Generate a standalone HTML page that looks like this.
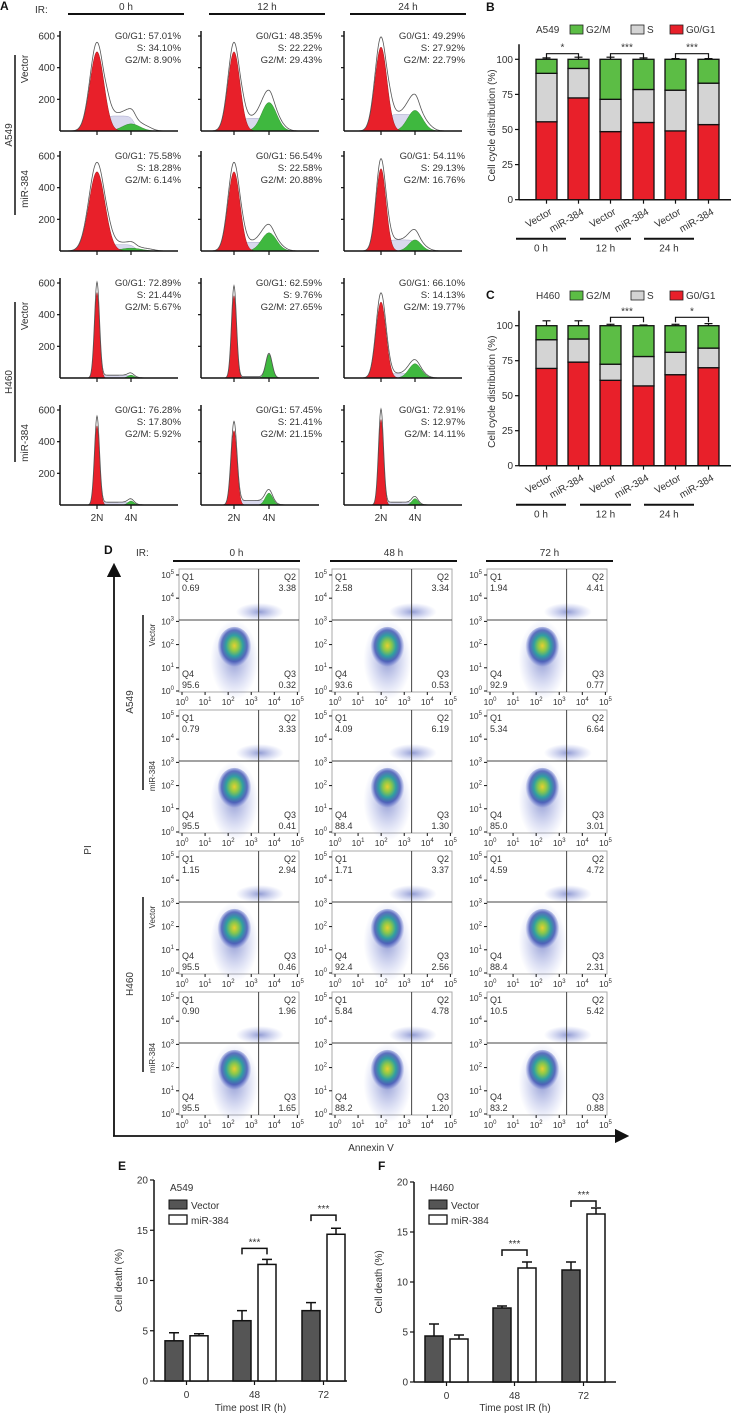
<!DOCTYPE html>
<html><head><meta charset="utf-8"><style>
html,body{margin:0;padding:0;background:#fff}
svg{display:block}
text{font-family:"Liberation Sans",sans-serif;fill:#333}
</style></head><body>
<svg id="fig" width="731" height="1416" viewBox="0 0 731 1416" xmlns="http://www.w3.org/2000/svg">
<defs>
<radialGradient id="dens" cx="50%" cy="45%" r="50%">
<stop offset="0" stop-color="#e8d030"/><stop offset="0.25" stop-color="#8cc84a"/><stop offset="0.5" stop-color="#30a0a0"/><stop offset="0.75" stop-color="#3a50b0" stop-opacity="0.8"/><stop offset="1" stop-color="#4a5cc8" stop-opacity="0"/>
</radialGradient>
<radialGradient id="dens2" cx="50%" cy="50%" r="50%">
<stop offset="0" stop-color="#3a4cb0" stop-opacity="0.55"/><stop offset="1" stop-color="#6a7ad8" stop-opacity="0"/>
</radialGradient>
<marker id="arr" markerWidth="8" markerHeight="8" refX="4" refY="4" orient="auto"><path d="M0,0 L8,4 L0,8 z" fill="#111"/></marker>
</defs>
<g id="root"></g>
</svg>
<script>
// ---------- Panel A data ----------
const histTimes = ['0 h','12 h','24 h'];
const histG1 = [57.01,48.35,49.29, 75.58,56.54,54.11, 72.89,62.59,66.10, 76.28,57.45,72.91];
const histS  = [34.10,22.22,27.92, 18.28,22.58,29.13, 21.44,9.76,14.13, 17.80,21.41,12.97];
const histG2 = [8.90,29.43,22.79, 6.14,20.88,16.76, 5.67,27.65,19.77, 5.92,21.15,14.11];
const histPeakG1 = [500,500,530, 500,500,520, 540,520,480, 500,470,540];
const histPeakS  = [95,80,105, 40,55,70, 18,8,28, 18,28,18];
const histPeakG2 = [45,180,130, 18,115,70, 18,150,90, 25,75,40];
const histSigma  = [7,6,6, 8,6,5, 2.5,2.5,5, 2.5,3,2.5];
const histYTicks = [200,400,600];
// ---------- Panel B/C data ----------
const barGroups = ['Vector','miR-384','Vector','miR-384','Vector','miR-384'];
const bG1 = [55.5,72.5,48.5,55,49,53.5];
const bS  = [34.5,21,23,23.5,29,29.5];
const bG2 = [10,6.5,28.5,21.5,22,17];
const bErr= [[1.5,2.5,1],[2.5,3,1.5],[1,1,1.5],[2,1,1],[1,1,0.5],[1,1,0.5]];
const cG1 = [69.5,74,61,57,65,70];
const cS  = [20.5,16.5,11.5,21,16,14];
const cG2 = [10,9.5,27.5,22,19,16];
const cErr= [[2.5,1.5,3.5],[2.5,2,3.5],[1.5,2,1],[2,2,0.5],[2,2.5,1],[3.5,3,1.5]];
const pctTicks = [0,25,50,75,100];
// ---------- Panel D data ----------
const dTimes = ['0 h','48 h','72 h'];
const q1 = ['0.69','2.58','1.94','0.79','4.09','5.34','1.15','1.71','4.59','0.90','5.84','10.5'];
const q2 = ['3.38','3.34','4.41','3.33','6.19','6.64','2.94','3.37','4.72','1.96','4.78','5.42'];
const q3 = ['0.32','0.53','0.77','0.41','1.30','3.01','0.46','2.56','2.31','1.65','1.20','0.88'];
const q4 = ['95.6','93.6','92.9','95.5','88.4','85.0','95.5','92.4','88.4','95.5','88.2','83.2'];
// ---------- Panel E/F data ----------
const timeCats = ['0','48','72'];
const eVec = [4.0,6.0,7.0], eVecErr=[0.8,1.0,0.8];
const eMir = [4.5,11.6,14.6], eMirErr=[0.2,0.5,0.6];
const fVec = [4.6,7.4,11.2], fVecErr=[1.2,0.2,0.8];
const fMir = [4.3,11.4,16.8], fMirErr=[0.4,0.6,0.6];
const deathTicks = [0,5,10,15,20];

const NS='http://www.w3.org/2000/svg';
const root=document.getElementById('root');
function el(tag,attrs,parent,txt){const e=document.createElementNS(NS,tag);for(const k in attrs)e.setAttribute(k,attrs[k]);if(txt!==undefined)e.textContent=txt;(parent||root).appendChild(e);return e;}
function grp(name){const g=el('g',{});return g;}
function T(g,x,y,s,size,anchor,extra){const t=el('text',Object.assign({x:x,y:y,'font-size':size||10,'text-anchor':anchor||'start'},extra||{}),g,s);return t;}
function L(g,x1,y1,x2,y2,w,c){return el('line',{x1:x1,y1:y1,x2:x2,y2:y2,stroke:c||'#111','stroke-width':w||1},g);}

// ===== Panel A =====
(function(){
  const g=grp('panel-a');
  T(g,0,10,'A',12,'start',{'font-weight':'bold',style:'fill:#111'});
  T(g,35,13,'IR:',10);
  const colX=[60,201,344], n2=[97,234,381], n4=[131,269,415], rowB=[131,251,378,505];
  const hdr=[[68,184],[209,325],[350,466]];
  histTimes.forEach((t,i)=>{L(g,hdr[i][0],14,hdr[i][1],14,2);T(g,(hdr[i][0]+hdr[i][1])/2,10,t,10,'middle');});
  L(g,15,55,15,215,1.5);T(g,0,0,'A549',10,'middle',{transform:'translate(12,135) rotate(-90)'});
  L(g,15,302,15,462,1.5);T(g,0,0,'H460',10,'middle',{transform:'translate(12,382) rotate(-90)'});
  ['Vector','miR-384','Vector','miR-384'].forEach((s,r)=>T(g,0,0,s,10,'middle',{transform:`translate(28,${rowB[r]-62}) rotate(-90)`}));
  const sc=95/600;
  for(let r=0;r<4;r++)for(let c=0;c<3;c++){
    const k=r*3+c, x0=colX[c], yb=rowB[r], w=118, c1=n2[c], c2=n4[c], s=histSigma[k];
    const hg=grp('histogram-r'+r+'-c'+c);
    const y=v=>yb-v*sc;
    let pr=[],ps=[],pg=[],po=[];
    for(let x=x0+2;x<=x0+w-2;x+=0.5){
      const a=histPeakG1[k]*Math.exp(-((x-c1)**2)/(2*s*s));
      const gs=histPeakG2[k]*Math.exp(-((x-c2)**2)/(2*(s*1.25)**2));
      const sv=histPeakS[k]/(1+Math.exp(-(x-c1-s*1.2)/1.5))/(1+Math.exp((x-c2-s*0.5)/2));
      pr.push([x,a]);ps.push([x,sv]);pg.push([x,gs]);
      const tail=histPeakS[k]*0.3/(1+Math.exp((x-c2-s*3)/3))/(1+Math.exp(-(x-c2)/2));
      po.push([x,a*1.12+sv+gs+tail]);
    }
    const path=(pts)=>'M'+pts[0][0]+','+yb+' '+pts.map(p=>'L'+p[0].toFixed(1)+','+y(p[1]).toFixed(1)).join(' ')+' L'+pts[pts.length-1][0]+','+yb+'Z';
    el('path',{d:path(ps),fill:'#d9d9ee',stroke:'#9a9ac0','stroke-width':0.4},hg);
    el('path',{d:path(pg),fill:'#3fb83f',stroke:'#2a7a2a','stroke-width':0.4},hg);
    el('path',{d:path(pr),fill:'#e8202a',stroke:'#8a1010','stroke-width':0.4},hg);
    el('path',{d:'M'+po.map(p=>p[0].toFixed(1)+','+y(p[1]).toFixed(1)).join(' L'),fill:'none',stroke:'#555','stroke-width':0.8},hg);
    L(hg,x0,yb-100,x0,yb,1.5);L(hg,x0,yb,x0+w,yb,1.5);
    L(hg,c1,yb,c1,yb+4,1.2);L(hg,c2,yb,c2,yb+4,1.2);
    histYTicks.forEach(v=>{L(hg,x0-3,y(v),x0,y(v),1.2);if(c===0)T(hg,x0-5,y(v)+3.5,String(v),10,'end');});
    T(hg,x0+121,yb-92,'G0/G1: '+histG1[k].toFixed(2)+'%',9.6,'end');
    T(hg,x0+121,yb-80,'S: '+histS[k].toFixed(2)+'%',9.6,'end');
    T(hg,x0+121,yb-68,'G2/M: '+histG2[k].toFixed(2)+'%',9.6,'end');
    if(r===3){T(hg,c1,521,'2N',10,'middle');T(hg,c2,521,'4N',10,'middle');}
  }
})();

// ===== Panels B & C =====
function stacked(name,letter,letterY,cell,y0,y100,topY,G1,S,G2,E,stars){
  const g=grp(name);
  const yv=v=>y0-(y0-y100)*v/100;
  T(g,486,letterY,letter,12,'start',{'font-weight':'bold',style:'fill:#111'});
  T(g,536,topY+5,cell,10);
  const lg=[['G2/M','#5cbd45',570],['S','#d4d4d4',631],['G0/G1','#e8202a',670]];
  lg.forEach(l=>{const r=el('rect',{x:l[2],y:topY-3,width:13,height:9,fill:l[1],stroke:'#222','stroke-width':0.8},g);T(g,l[2]+16,topY+5,l[0],10);});
  L(g,519,y100-15,519,y0,1.5);L(g,519,y0,731,y0,1.5);
  pctTicks.forEach(v=>{L(g,515,yv(v),519,yv(v),1.2);T(g,513,yv(v)+3.5,String(v),10,'end');});
  T(g,0,0,'Cell cycle distribution (%)',10,'middle',{transform:`translate(495,${(y0+y100)/2-4}) rotate(-90)`});
  const bx=[536,568,600,633,665,698], bw=21;
  barGroups.forEach((lab,i)=>{
    const parts=[[0,G1[i],'#e8202a'],[G1[i],G1[i]+S[i],'#d4d4d4'],[G1[i]+S[i],G1[i]+S[i]+G2[i],'#5cbd45']];
    parts.forEach((p,j)=>{const r=el('rect',{x:bx[i],y:yv(p[1]),width:bw,height:yv(p[0])-yv(p[1]),fill:p[2],stroke:'#111','stroke-width':1.3},g);
      const cx=bx[i]+bw/2, e=E[i][j], top=yv(p[1]), et=yv(p[1]+e);
      L(g,cx,top,cx,et,1.2);L(g,cx-4,et,cx+4,et,1.2);});
    const cx=bx[i]+bw/2;L(g,cx,y0,cx,y0+4,1.2);
    T(g,0,0,lab,10,'end',{transform:`translate(${cx+6},${y0+14}) rotate(-30)`});
  });
  [['0 h',516,566],['12 h',580,631],['24 h',644,694]].forEach(h=>{L(g,h[1],y0+39,h[2],y0+39,2);T(g,(h[1]+h[2])/2,y0+52,h[0],10,'middle');});
  stars.forEach(s=>{const a=bx[s[0]]+bw/2,b=bx[s[0]+1]+bw/2,yy=yv(s[2]);el('path',{d:`M${a},${yy+5} L${a},${yy} L${b},${yy} L${b},${yy+5}`,fill:'none',stroke:'#111','stroke-width':1.2},g);T(g,(a+b)/2,yy-3,s[1],10,'middle');});
}
stacked('panel-b-chart','B',11,'A549',199.7,59.3,28,bG1,bS,bG2,bErr,[[0,'*',104],[2,'***',104],[4,'***',104]]);
stacked('panel-c-chart','C',299,'H460',465.7,325.7,294,cG1,cS,cG2,cErr,[[2,'***',106],[4,'*',106]]);

// ===== Panel D =====
(function(){
  const g=grp('panel-d');
  T(g,104,554,'D',12,'start',{'font-weight':'bold',style:'fill:#111'});
  T(g,136,556,'IR:',10);
  const cx=[179,332,487], bw=120, ry=[569,710,851,992], bh=123;
  const hd=[[173,300],[330,457],[486,613]];
  dTimes.forEach((t,i)=>{L(g,hd[i][0],561,hd[i][1],561,2);T(g,(hd[i][0]+hd[i][1])/2,556,t,10,'middle');});
  el('line',{x1:114,y1:1136,x2:114,y2:570,stroke:'#111','stroke-width':1.8,'marker-end':'url(#arr)'},g);
  el('line',{x1:113,y1:1136,x2:622,y2:1136,stroke:'#111','stroke-width':1.8,'marker-end':'url(#arr)'},g);
  T(g,0,0,'PI',10,'middle',{transform:'translate(91,850) rotate(-90)'});
  T(g,371,1151,'Annexin V',10,'middle');
  L(g,143,615,143,790,1.5);T(g,0,0,'A549',10,'middle',{transform:'translate(133,702) rotate(-90)'});
  L(g,143,897,143,1072,1.5);T(g,0,0,'H460',10,'middle',{transform:'translate(133,984) rotate(-90)'});
  ['Vector','miR-384','Vector','miR-384'].forEach((s,r)=>T(g,0,0,s,8,'middle',{transform:`translate(155,${ry[r]+66}) rotate(-90)`}));
  const decX=v=>v*bw/5.2, decY=v=>bh-v*bh/5.3;
  for(let r=0;r<4;r++)for(let c=0;c<3;c++){
    const k=r*3+c,x0=cx[c],y0=ry[r];
    const pg=grp('scatter-r'+r+'-c'+c);
    el('rect',{x:x0,y:y0,width:bw,height:bh,fill:'#fff',stroke:'#aaa','stroke-width':1},pg);
    const px=x0+decX(2.4), py=y0+decY(1.9);
    el('ellipse',{cx:x0+decX(3.5),cy:y0+decY(3.45),rx:24,ry:9,fill:'url(#dens2)'},pg);
    el('ellipse',{cx:px,cy:py+12,rx:24,ry:40,fill:'url(#dens2)'},pg);
    el('ellipse',{cx:px,cy:py,rx:17,ry:21,fill:'url(#dens)'},pg);
    const vx=x0+decX(3.45), hy=y0+decY(3.1);
    L(pg,vx,y0,vx,y0+bh,1,'#444');L(pg,x0,hy,x0+bw,hy,1,'#444');
    T(pg,x0+3,y0+11,'Q1',9);T(pg,x0+3,y0+22,q1[k],9);
    T(pg,x0+bw-3,y0+11,'Q2',9,'end');T(pg,x0+bw-3,y0+22,q2[k],9,'end');
    T(pg,x0+3,y0+bh-15,'Q4',9);T(pg,x0+3,y0+bh-4,q4[k],9);
    T(pg,x0+bw-3,y0+bh-15,'Q3',9,'end');T(pg,x0+bw-3,y0+bh-4,q3[k],9,'end');
    for(let d=0;d<=5;d++){
      const yy=y0+decY(d)-1, xx=x0+decX(d)+3;
      L(pg,x0-3,yy,x0,yy,1);L(pg,xx,y0+bh,xx,y0+bh+3,1);
      const t1=T(pg,x0-5,yy+3,'10',8.5,'end');el('tspan',{dy:-4,'font-size':6},t1,String(d));
      const t2=T(pg,xx,y0+bh+13,'10',8.5,'middle');el('tspan',{dy:-4,'font-size':6},t2,String(d));
    }
  }
})();

// ===== Panels E & F =====
function deathChart(name,letter,cell,ax,axEnd,y0,y20,bx,vec,vecE,mir,mirE,starsY){
  const g=grp(name);
  const yv=v=>y0-(y0-y20)*v/20;
  T(g,ax-36,1170,letter,12,'start',{'font-weight':'bold',style:'fill:#111'});
  L(g,ax,y20,ax,y0,1.5);L(g,ax,y0,axEnd,y0,1.5);
  deathTicks.forEach(v=>{L(g,ax-4,yv(v),ax,yv(v),1.2);T(g,ax-6,yv(v)+3.5,String(v),10,'end');});
  T(g,0,0,'Cell death (%)',10,'middle',{transform:`translate(${ax-32},${(y0+y20)/2}) rotate(-90)`});
  T(g,ax+16,1191,cell,10);
  const l1=el('rect',{x:ax+15,y:1200,width:18,height:9,fill:'#555',stroke:'#111','stroke-width':1},g);
  T(g,ax+37,1209,'Vector',10);
  const l2=el('rect',{x:ax+15,y:1215,width:18,height:9,fill:'#fff',stroke:'#111','stroke-width':1.3},g);
  T(g,ax+37,1224,'miR-384',10);
  timeCats.forEach((c,i)=>{
    const b1=bx[i], b2=b1+25, w=18;
    [[b1,vec[i],vecE[i],'#555','vector'],[b2,mir[i],mirE[i],'#fff','mir384']].forEach(b=>{
      const r=el('rect',{x:b[0],y:yv(b[1]),width:w,height:y0-yv(b[1]),fill:b[3],stroke:'#111','stroke-width':1.5},g);
      const cx=b[0]+w/2,et=yv(b[1]+b[2]);L(g,cx,yv(b[1]),cx,et,1.5);L(g,cx-5,et,cx+5,et,1.5);
    });
    const tx=b1+w+3.5;L(g,tx,y0,tx,y0+4,1.2);T(g,tx,y0+17,c,10,'middle');
    if(starsY[i]!==null){const yy=yv(starsY[i]),a=b1+w/2,bb=b2+w/2;el('path',{d:`M${a},${yy+6} L${a},${yy} L${bb},${yy} L${bb},${yy+6}`,fill:'none',stroke:'#111','stroke-width':1.5},g);T(g,(a+bb)/2,yy-3,'***',10,'middle');}
  });
  T(g,(ax+axEnd)/2,1411,'Time post IR (h)',10,'middle');
}
deathChart('panel-e-chart','E','A549',154,347,1381,1180,[165,233,302],eVec,eVecErr,eMir,eMirErr,[null,13.2,16.5]);
deathChart('panel-f-chart','F','H460',414,616,1382,1182,[425,493,562],fVec,fVecErr,fMir,fMirErr,[null,13.2,18.1]);
</script>
</body></html>
